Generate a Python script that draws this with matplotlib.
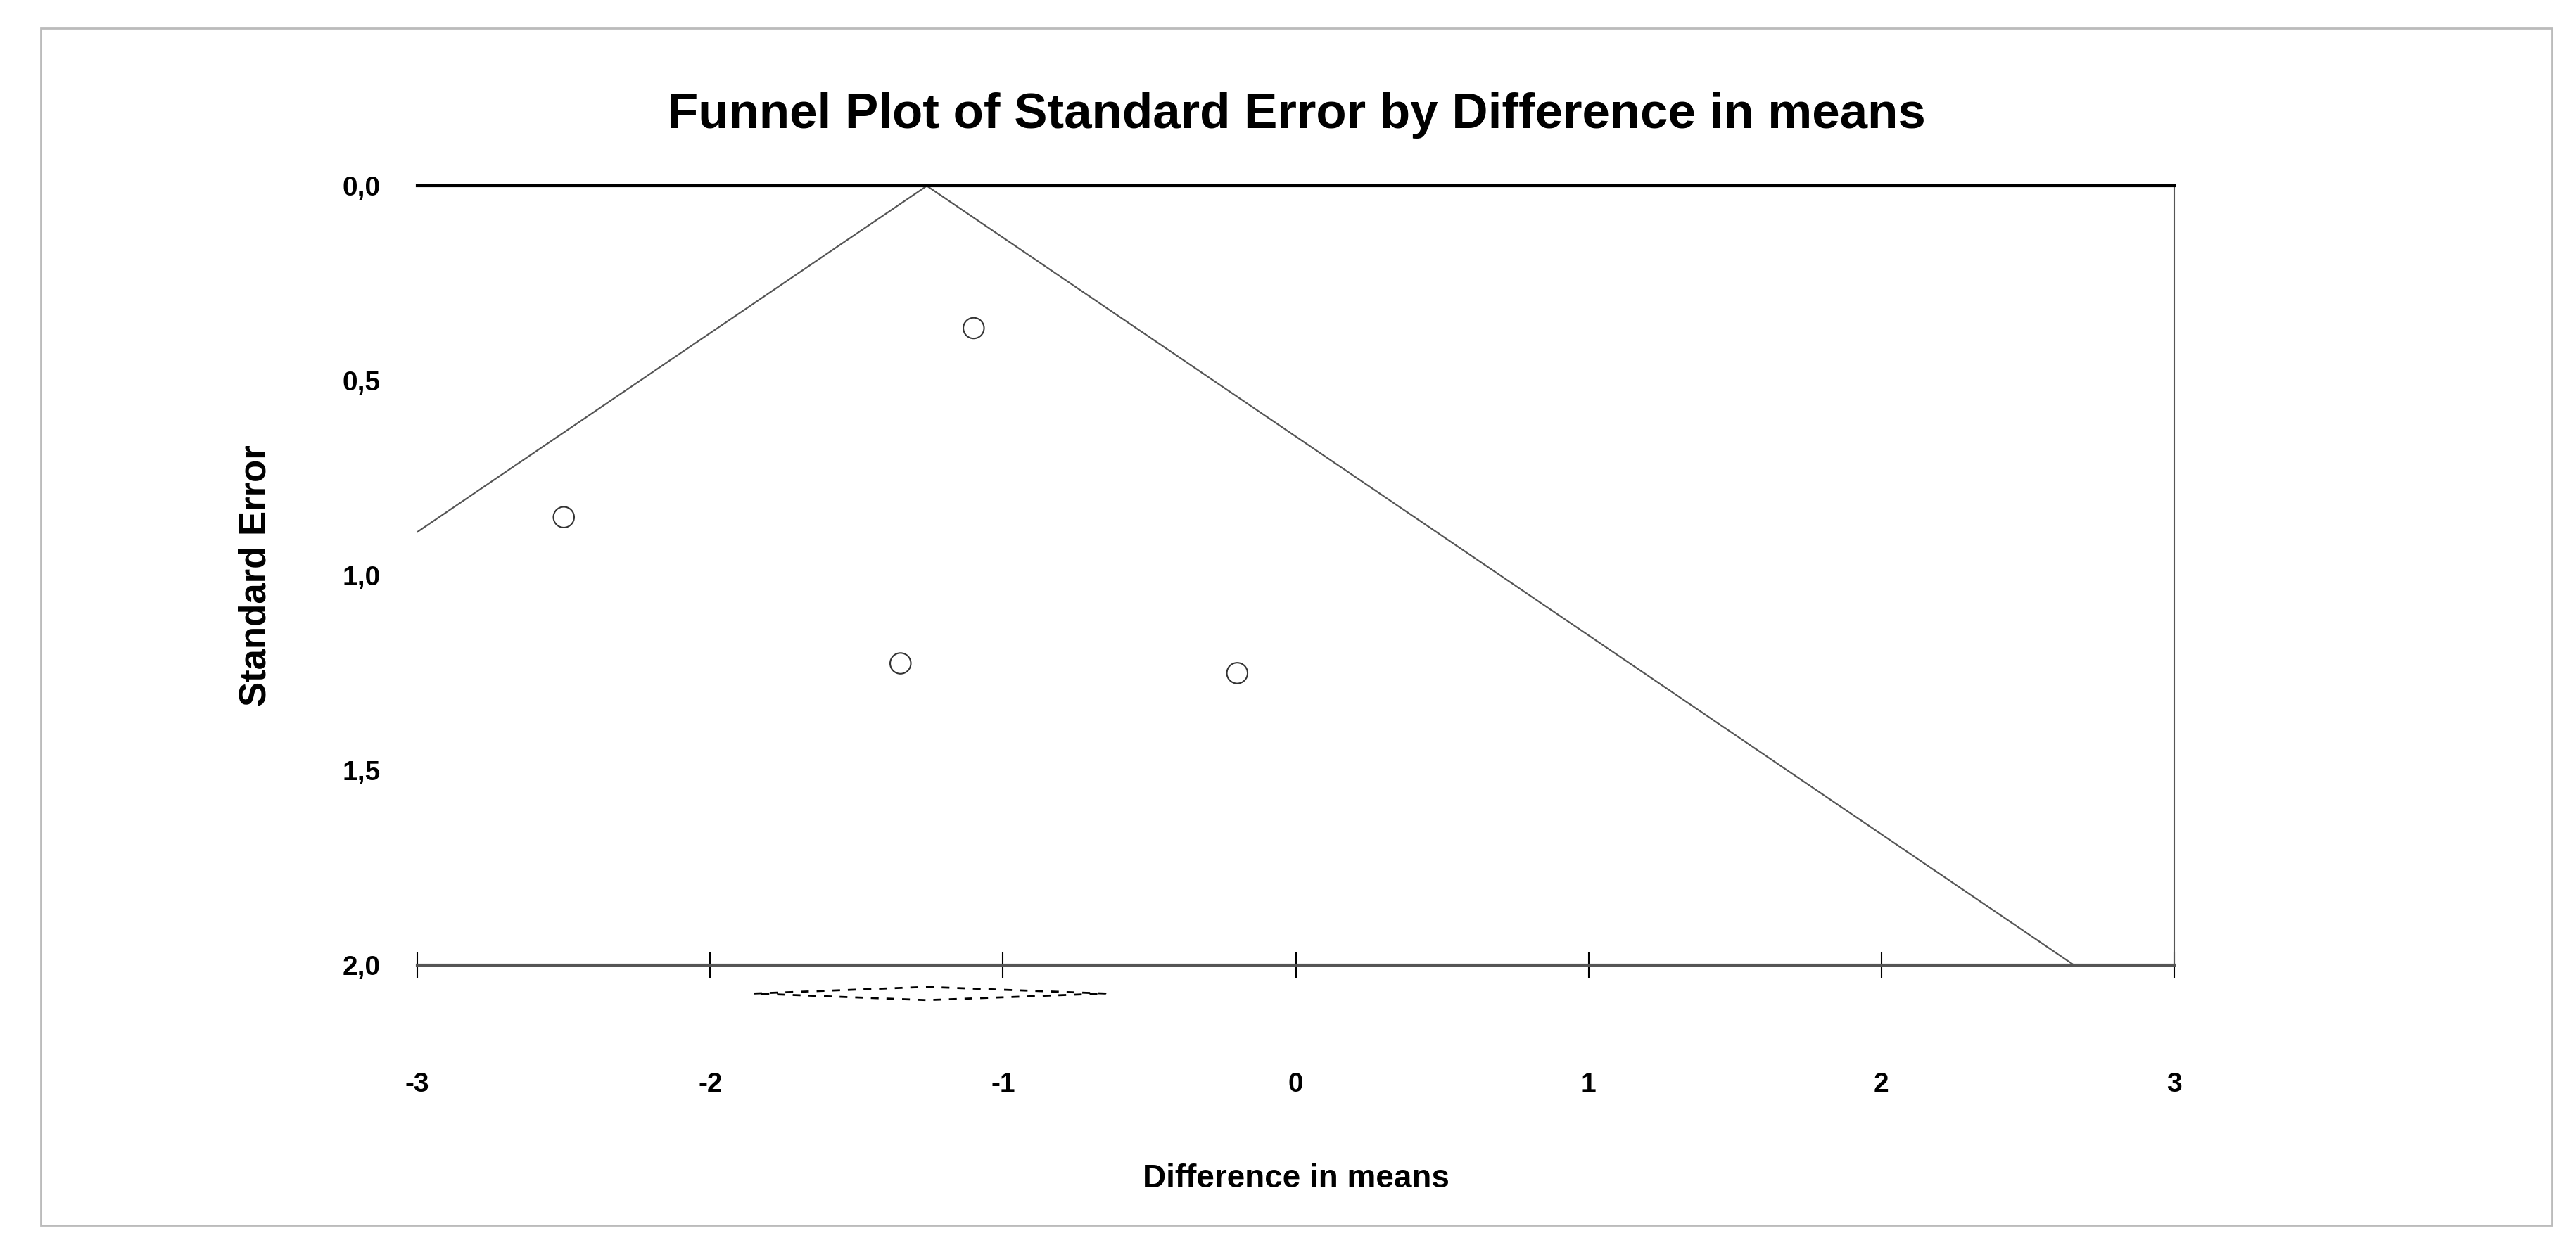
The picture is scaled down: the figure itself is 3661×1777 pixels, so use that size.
import matplotlib
matplotlib.use("Agg")
import matplotlib.pyplot as plt
from matplotlib.patches import Rectangle

study_diff = [-2.5, -1.1, -1.35, -0.2]
study_se = [0.85, 0.365, 1.225, 1.25]
pooled_mean = -1.26
pooled_ci = [-1.85, -0.65]
xticks = [-3, -2, -1, 0, 1, 2, 3]
yticks = [0.0, 0.5, 1.0, 1.5, 2.0]
ylabels = ["0,0", "0,5", "1,0", "1,5", "2,0"]

W, H = 3662, 1777
fig = plt.figure(figsize=(W/100, H/100), dpi=100)
plt.rcParams['font.family'] = ['Liberation Sans', 'DejaVu Sans']
fig.patches.append(Rectangle((25/1568, 1-745/760), (1553-25)/1568, (745-17)/760,
                             transform=fig.transFigure, fill=False, ec='#bbbbbb', lw=2))
ax = fig.add_axes([254/1568, 1-587/760, (1323-254)/1568, (587-113)/760])
ax.set_xlim(-3, 3)
ax.set_ylim(2.0, 0.0)

se_max = 2.0
ax.plot([pooled_mean - 1.96*se_max, pooled_mean, pooled_mean + 1.96*se_max],
        [se_max, 0, se_max], color='#555555', lw=1.6)
ax.scatter(study_diff, study_se, s=450, facecolors='none', edgecolors='#333333', lw=1.5, zorder=3)

yd, hd = 2.072, 0.017
ax.plot([pooled_ci[0], pooled_mean, pooled_ci[1], pooled_mean, pooled_ci[0]],
        [yd, yd - hd, yd, yd + hd, yd], color='black', lw=2, ls=(0, (4, 4)), clip_on=False)

ax.spines['left'].set_visible(False)
ax.spines['top'].set_color('black'); ax.spines['top'].set_linewidth(3)
ax.spines['bottom'].set_color('#555555'); ax.spines['bottom'].set_linewidth(3)
ax.spines['right'].set_color('#555555'); ax.spines['right'].set_linewidth(1.5)
ax.set_xticks(xticks)
ax.set_xticklabels([str(t) for t in xticks], fontsize=28, fontweight='bold')
ax.set_yticks(yticks)
ax.set_yticklabels(ylabels, fontsize=28, fontweight='bold')
ax.tick_params(axis='x', direction='inout', length=28, width=1.5, pad=95)
ax.tick_params(axis='y', direction='out', length=0, width=1.5, pad=38)
ax.set_xlabel("Difference in means", fontsize=33, fontweight='bold', labelpad=68)
ax.set_ylabel("Standard Error", fontsize=38, fontweight='bold', labelpad=70)
fig.text(789/1568, 1-70/760, "Funnel Plot of Standard Error by Difference in means",
         ha='center', va='center', fontsize=51, fontweight='bold')
fig.savefig("out.png", dpi=100)
